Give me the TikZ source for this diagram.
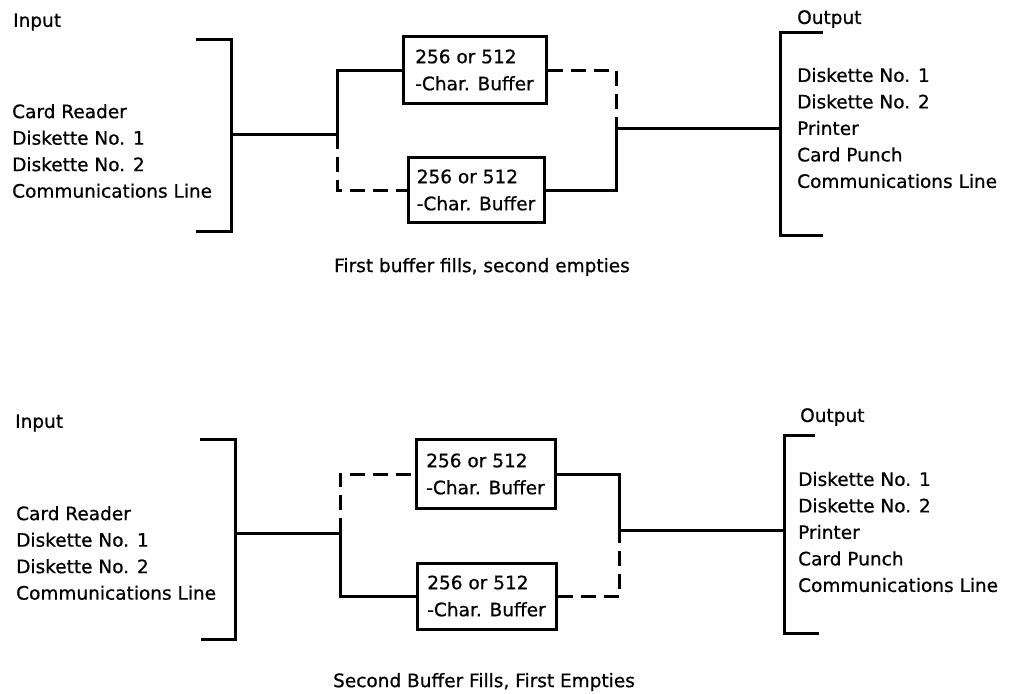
\documentclass[tikz,border=0pt]{standalone}
\usepackage{fontspec}
\setmainfont{DejaVu Sans}[FakeBold=0.7]
\usetikzlibrary{positioning}

\tikzset{
  lbl/.style={font=\fontsize{18.5}{26.5}\selectfont, inner sep=0pt, align=left},
  bufbox/.style={draw, line width=3pt, font=\fontsize{18.5}{27}\selectfont,
    align=left, inner sep=0pt},
  wire/.style={line width=3pt},
  dashwire/.style={line width=3pt, dash pattern=on 15pt off 8pt},
}

\begin{document}
\begin{tikzpicture}[x=1pt, y=-1pt]
    \useasboundingbox (0,0) rectangle (1016,693);

    % ; upper case: first buffer fills, second empties ;
    \node[lbl, anchor=west] (inA) at (13,22) {Input};
    \node[lbl, anchor=west] (srcA) at (12,151)
        {Card Reader\\Diskette No. 1\\Diskette No. 2\\Communications Line};
    \node[lbl, anchor=west] (outA) at (797,19) {Output};
    \node[lbl, anchor=west] (dstA) at (797,128)
        {Diskette No. 1\\Diskette No. 2\\Printer\\Card Punch\\Communications Line};

    \node[bufbox, minimum width=143pt, minimum height=66pt] (bufA1) at (474.5,70)
        {256 or 512\\-Char. Buffer};
    \node[bufbox, minimum width=136pt, minimum height=65pt] (bufA2) at (476,190)
        {256 or 512\\-Char. Buffer};

    \coordinate (inbrA) at (231,134);
    \coordinate (jinA) at (337,134);
    \coordinate (joutA) at (616,128);
    \coordinate (outbrA) at (780,128);

    % brackets
    \draw[wire] (196,40) -| (231,231) -- (196,231);
    \draw[wire] (823,33) -| (780,235) -- (823,235);

    % paths through the buffers
    \draw[wire] (inbrA) -- (jinA);
    \draw[wire] (jinA) |- (bufA1.west);
    \draw[dashwire] (jinA) |- (bufA2.west);
    \draw[dashwire] (bufA1.east) -| (joutA);
    \draw[wire] (bufA2.east) -| (joutA);
    \draw[wire] (joutA) -- (outbrA);

    \node[lbl] (capA) at (482,267) {First buffer fills, second empties};

    % ; lower case: second buffer fills, first empties ;
    \node[lbl, anchor=west] (inB) at (15,423) {Input};
    \node[lbl, anchor=west] (srcB) at (16,553)
        {Card Reader\\Diskette No. 1\\Diskette No. 2\\Communications Line};
    \node[lbl, anchor=west] (outB) at (800,417) {Output};
    \node[lbl, anchor=west] (dstB) at (798,532)
        {Diskette No. 1\\Diskette No. 2\\Printer\\Card Punch\\Communications Line};

    \node[bufbox, minimum width=139pt, minimum height=69pt] (bufB1) at (485.5,474)
        {256 or 512\\-Char. Buffer};
    \node[bufbox, minimum width=139pt, minimum height=66pt] (bufB2) at (486.5,596)
        {256 or 512\\-Char. Buffer};

    \coordinate (inbrB) at (235,533);
    \coordinate (jinB) at (340,533);
    \coordinate (joutB) at (619,530);
    \coordinate (outbrB) at (784,530);

    % brackets
    \draw[wire] (200,439) -| (235,639) -- (201,639);
    \draw[wire] (815,435) -| (784,633) -- (819,633);

    % paths through the buffers
    \draw[wire] (inbrB) -- (jinB);
    \draw[dashwire] (jinB) |- (bufB1.west);
    \draw[wire] (jinB) |- (bufB2.west);
    \draw[wire] (bufB1.east) -| (joutB);
    \draw[dashwire] (bufB2.east) -| (joutB);
    \draw[wire] (joutB) -- (outbrB);

    \node[lbl] (capB) at (484,682) {Second Buffer Fills, First Empties};
\end{tikzpicture}
\end{document}
